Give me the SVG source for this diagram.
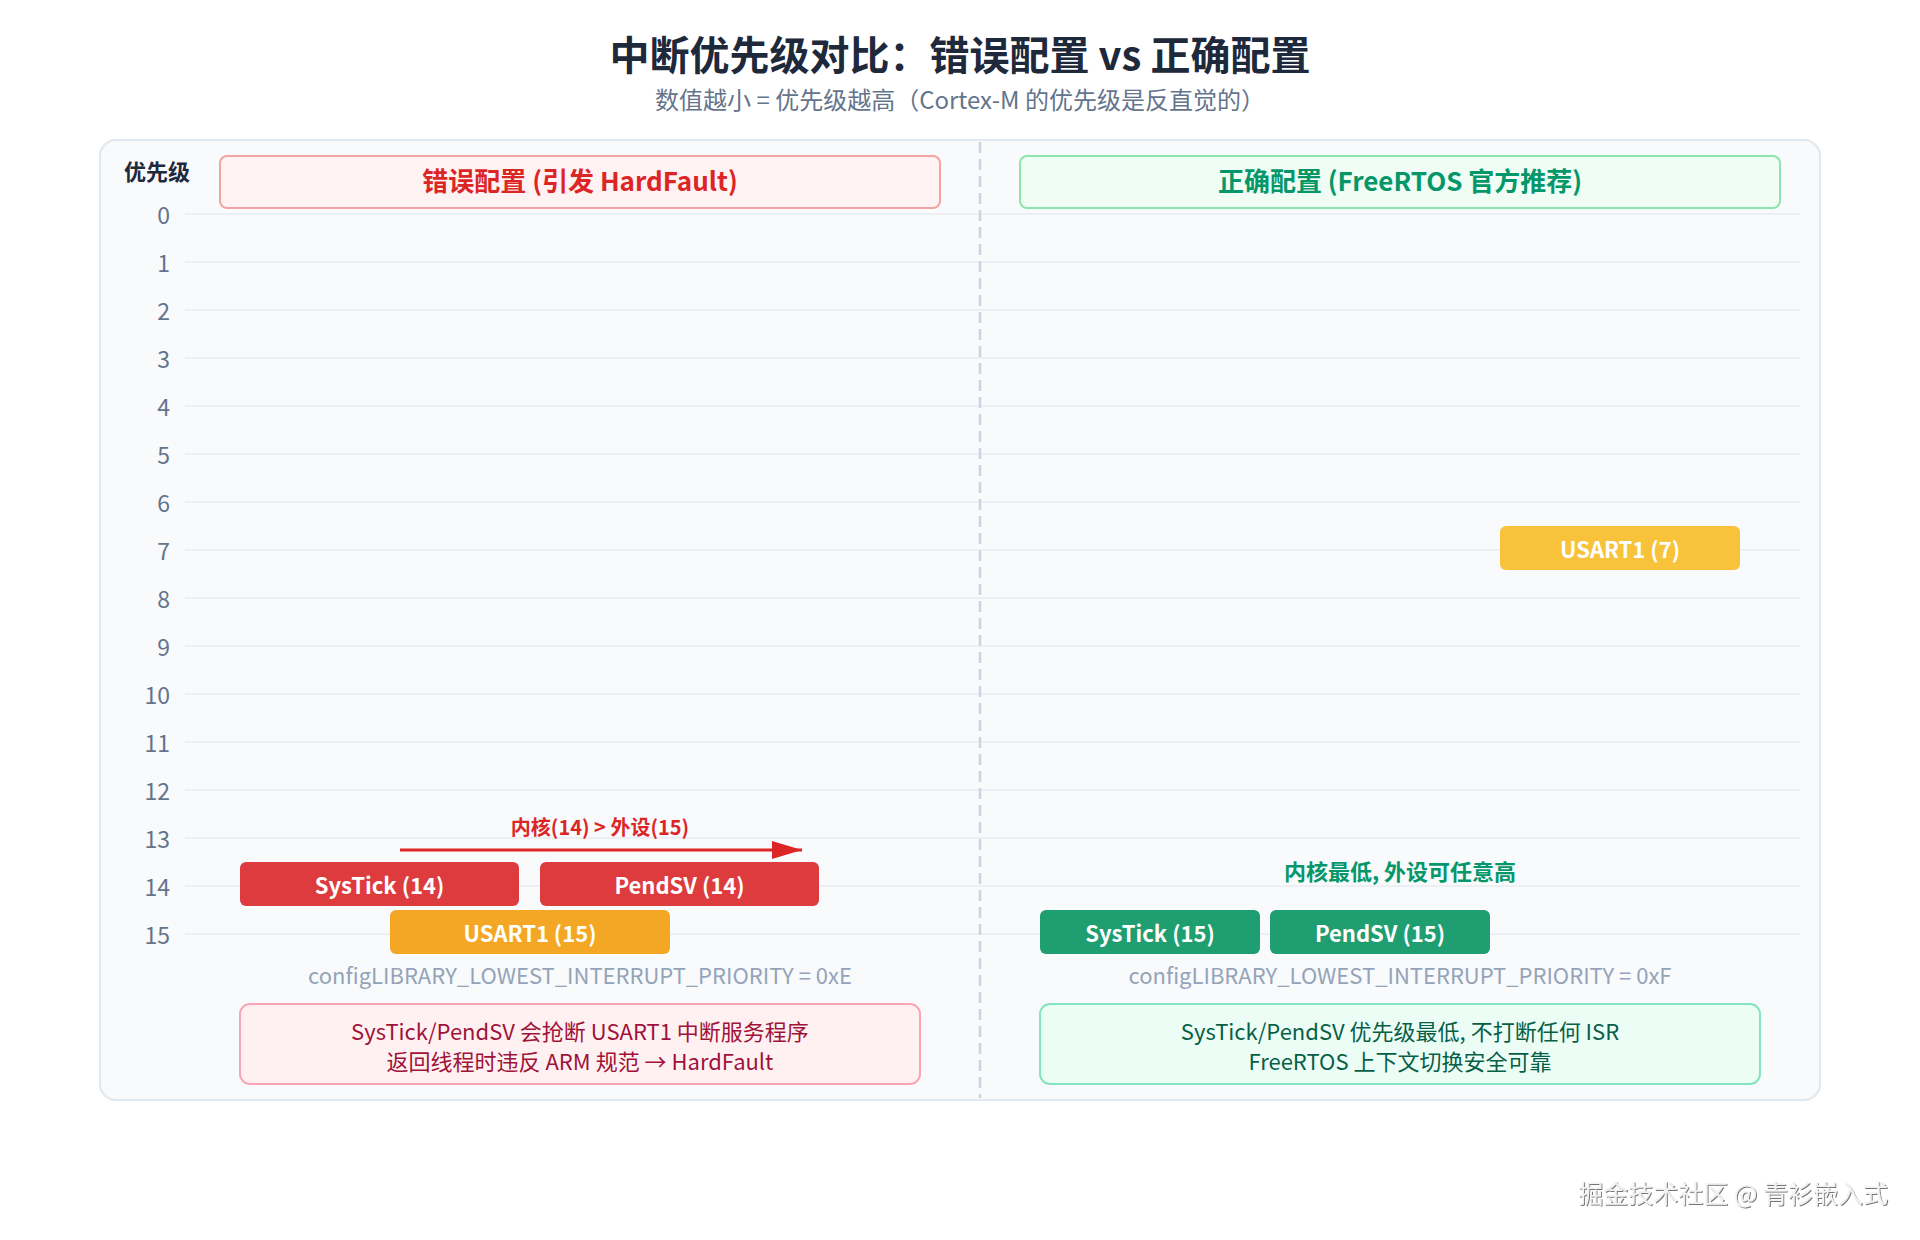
<svg xmlns="http://www.w3.org/2000/svg" width="1920" height="1240" viewBox="0 0 1920 1240">
<style>
text{font-family:"Noto Sans CJK SC","Noto Sans",sans-serif}
.title{font-size:40px;font-weight:700;fill:#1e293b;text-anchor:middle}
.sub{font-size:24px;fill:#64748b;text-anchor:middle}
.axis{font-size:23px;fill:#64748b;text-anchor:end}
.grid{stroke:#e8edf2;stroke-width:1.5}
.hdr{font-size:26px;font-weight:700;text-anchor:middle}
.lbl{font-size:22px;font-weight:700;fill:#ffffff;text-anchor:middle}
.cfg{font-size:22px;fill:#94a3b8;text-anchor:middle}
.note{font-size:22px;text-anchor:middle}
.red{fill:#dd3b3d}
.org{fill:#f3a724}
.yel{fill:#f8c33a}
.grn{fill:#1f9e72}
</style>
<defs>
<marker id="ah" markerWidth="10" markerHeight="6" refX="10" refY="3" orient="auto" markerUnits="strokeWidth">
<path d="M0,0 L10,3 L0,6 Z" fill="#dc2626"/>
</marker>
<filter id="emb" x="-5%" y="-20%" width="110%" height="140%">
<feDropShadow dx="1" dy="1" stdDeviation="0.6" flood-color="#555555" flood-opacity="0.8"/>
</filter>
</defs>
<rect width="1920" height="1240" fill="#ffffff"/>
<text class="title" x="960" y="70">中断优先级对比：错误配置 vs 正确配置</text>
<text class="sub" x="960" y="109">数值越小 = 优先级越高（Cortex-M 的优先级是反直觉的）</text>
<rect x="100" y="140" width="1720" height="960" rx="16" fill="#f8fafc" stroke="#e2e8f0" stroke-width="2"/>
<text x="157" y="180" font-size="22" font-weight="700" fill="#1e293b" text-anchor="middle">优先级</text>
<g id="grid">
<line class="grid" x1="185" y1="214" x2="1800" y2="214"/>
<line class="grid" x1="185" y1="262" x2="1800" y2="262"/>
<line class="grid" x1="185" y1="310" x2="1800" y2="310"/>
<line class="grid" x1="185" y1="358" x2="1800" y2="358"/>
<line class="grid" x1="185" y1="406" x2="1800" y2="406"/>
<line class="grid" x1="185" y1="454" x2="1800" y2="454"/>
<line class="grid" x1="185" y1="502" x2="1800" y2="502"/>
<line class="grid" x1="185" y1="550" x2="1800" y2="550"/>
<line class="grid" x1="185" y1="598" x2="1800" y2="598"/>
<line class="grid" x1="185" y1="646" x2="1800" y2="646"/>
<line class="grid" x1="185" y1="694" x2="1800" y2="694"/>
<line class="grid" x1="185" y1="742" x2="1800" y2="742"/>
<line class="grid" x1="185" y1="790" x2="1800" y2="790"/>
<line class="grid" x1="185" y1="838" x2="1800" y2="838"/>
<line class="grid" x1="185" y1="886" x2="1800" y2="886"/>
<line class="grid" x1="185" y1="934" x2="1800" y2="934"/>
</g>
<g id="axis">
<text class="axis" x="170" y="224">0</text>
<text class="axis" x="170" y="272">1</text>
<text class="axis" x="170" y="320">2</text>
<text class="axis" x="170" y="368">3</text>
<text class="axis" x="170" y="416">4</text>
<text class="axis" x="170" y="464">5</text>
<text class="axis" x="170" y="512">6</text>
<text class="axis" x="170" y="560">7</text>
<text class="axis" x="170" y="608">8</text>
<text class="axis" x="170" y="656">9</text>
<text class="axis" x="170" y="704">10</text>
<text class="axis" x="170" y="752">11</text>
<text class="axis" x="170" y="800">12</text>
<text class="axis" x="170" y="848">13</text>
<text class="axis" x="170" y="896">14</text>
<text class="axis" x="170" y="944">15</text>
</g>
<line x1="980" y1="142" x2="980" y2="1098" stroke="#cbd5e1" stroke-width="2.5" stroke-dasharray="11 6"/>
<g id="hdr-wrong">
<rect x="220" y="156" width="720" height="52" rx="7" fill="#fef2f2" stroke="#f4a3a3" stroke-width="2"/>
<text class="hdr" x="580" y="191" fill="#dc2626">错误配置 (引发 HardFault)</text>
</g>
<g id="hdr-right">
<rect x="1020" y="156" width="760" height="52" rx="7" fill="#f0fdf4" stroke="#8ee4ad" stroke-width="2"/>
<text class="hdr" x="1400" y="191" fill="#059669">正确配置 (FreeRTOS 官方推荐)</text>
</g>
<g id="w-systick">
<rect class="red" x="240" y="862" width="279" height="44" rx="6"/>
<text class="lbl" x="379.5" y="894">SysTick (14)</text>
</g>
<g id="w-pendsv">
<rect class="red" x="540" y="862" width="279" height="44" rx="6"/>
<text class="lbl" x="679.5" y="894">PendSV (14)</text>
</g>
<g id="w-usart">
<rect class="org" x="390" y="910" width="280" height="44" rx="6"/>
<text class="lbl" x="530" y="942">USART1 (15)</text>
</g>
<g id="connectors">
<line x1="400" y1="850" x2="802" y2="850" stroke="#dc2626" stroke-width="3" marker-end="url(#ah)"/>
</g>
<text x="600" y="835" font-size="20" font-weight="700" fill="#dc2626" text-anchor="middle">内核(14) &gt; 外设(15)</text>
<text class="cfg" x="580" y="984">configLIBRARY_LOWEST_INTERRUPT_PRIORITY = 0xE</text>
<g id="w-note">
<rect x="240" y="1004" width="680" height="80" rx="10" fill="#fff1f2" stroke="#f8a5b5" stroke-width="2"/>
<text class="note" x="580" y="1040" fill="#9f1239">SysTick/PendSV 会抢断 USART1 中断服务程序</text>
<text class="note" x="580" y="1070" fill="#9f1239">返回线程时违反 ARM 规范 → HardFault</text>
</g>
<g id="r-usart">
<rect class="yel" x="1500" y="526" width="240" height="44" rx="6"/>
<text class="lbl" x="1620" y="558">USART1 (7)</text>
</g>
<text x="1400" y="880" font-size="22" font-weight="700" fill="#059669" text-anchor="middle">内核最低, 外设可任意高</text>
<g id="r-systick">
<rect class="grn" x="1040" y="910" width="220" height="44" rx="6"/>
<text class="lbl" x="1150" y="942">SysTick (15)</text>
</g>
<g id="r-pendsv">
<rect class="grn" x="1270" y="910" width="220" height="44" rx="6"/>
<text class="lbl" x="1380" y="942">PendSV (15)</text>
</g>
<text class="cfg" x="1400" y="984">configLIBRARY_LOWEST_INTERRUPT_PRIORITY = 0xF</text>
<g id="r-note">
<rect x="1040" y="1004" width="720" height="80" rx="10" fill="#ecfdf5" stroke="#86e5c0" stroke-width="2"/>
<text class="note" x="1400" y="1040" fill="#065f46">SysTick/PendSV 优先级最低, 不打断任何 ISR</text>
<text class="note" x="1400" y="1070" fill="#065f46">FreeRTOS 上下文切换安全可靠</text>
</g>
<text x="1888" y="1203" font-size="25" fill="#f2f2f2" text-anchor="end" filter="url(#emb)">掘金技术社区 @ 青衫嵌入式</text>
</svg>
